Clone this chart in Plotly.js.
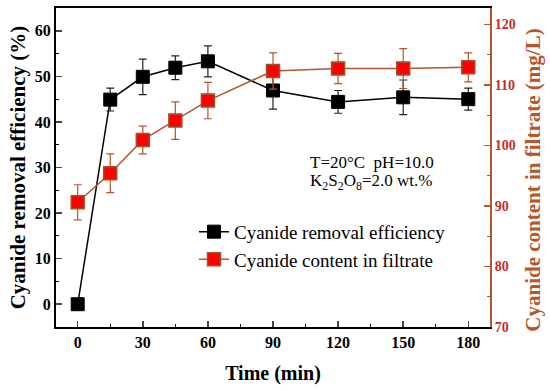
<!DOCTYPE html>
<html><head><meta charset="utf-8">
<script src="https://cdn.plot.ly/plotly-3.0.1.min.js"></script>
<style>html,body{margin:0;padding:0;background:#fff}#c{width:550px;height:390px}</style>
</head><body><div id="c"></div>
<script>
const time = [0, 15, 30, 45, 60, 90, 120, 150, 180];
const efficiency = [0, 44.9, 49.9, 51.9, 53.3, 46.9, 44.4, 45.4, 45.0];
const efficiencyErr = [0, 2.5, 3.9, 2.6, 3.4, 4.1, 2.5, 3.8, 2.4];
const content = [90.6, 95.4, 100.9, 104.1, 107.4, 112.3, 112.7, 112.7, 112.9];
const contentErr = [2.9, 3.2, 2.3, 3.1, 3.0, 3.0, 2.5, 3.3, 2.4];
const xTicks = [0, 30, 60, 90, 120, 150, 180];
const leftTicks = [0, 10, 20, 30, 40, 50, 60];
const rightTicks = [70, 80, 90, 100, 110, 120];

const serif = '"Liberation Serif", "Times New Roman", serif';
const brown = '#b5562b';
const redLabel = '#c0302a';

const traces = [
  {x: time, y: efficiency, name: 'Cyanide removal efficiency', type: 'scatter', mode: 'lines+markers',
   line: {color: '#000', width: 1.5}, marker: {symbol: 'square', size: 13, color: '#000', line: {color: '#000', width: 1}},
   error_y: {type: 'data', array: efficiencyErr, visible: true, color: '#222', thickness: 1.2, width: 4}},
  {x: time, y: content, name: 'Cyanide content in filtrate', type: 'scatter', mode: 'lines+markers', yaxis: 'y2',
   line: {color: brown, width: 1.5}, marker: {symbol: 'square', size: 13, color: '#ff0000', line: {color: '#a0522d', width: 1.5}},
   error_y: {type: 'data', array: contentErr, visible: true, color: brown, thickness: 1.2, width: 4}}
];

const layout = {
  width: 550, height: 390,
  margin: {l: 56, r: 60, t: 8, b: 63},
  paper_bgcolor: '#fff', plot_bgcolor: '#fff',
  showlegend: true,
  legend: {x: 0.318, y: 0.358, xanchor: 'left', yanchor: 'top', bgcolor: 'rgba(0,0,0,0)',
    font: {family: serif, size: 19, color: '#000'}, tracegroupgap: 0},
  xaxis: {range: [-10, 190], tickvals: xTicks, ticks: 'inside', ticklen: 6, tickwidth: 1.5,
    minor: {dtick: 15, tick0: 0, ticks: 'inside', ticklen: 3, tickwidth: 1.2, tickcolor: '#000'},
    showline: true, linecolor: '#000', linewidth: 2, mirror: true, showgrid: false, zeroline: false,
    tickfont: {family: serif, size: 16, color: '#000', weight: 'bold'},
    title: {text: '<b>Time (min)</b>', font: {family: serif, size: 20, color: '#000'}, standoff: 16}},
  yaxis: {range: [-5, 65], tickvals: leftTicks, ticks: 'inside', ticklen: 6, tickwidth: 1.5,
    minor: {dtick: 5, tick0: 0, ticks: 'inside', ticklen: 3, tickwidth: 1.2, tickcolor: '#000'},
    showline: true, linecolor: '#000', linewidth: 2, showgrid: false, zeroline: false,
    tickfont: {family: serif, size: 16, color: '#000', weight: 'bold'},
    title: {text: '<b>Cyanide removal efficiency (%)</b>', font: {family: serif, size: 21, color: '#000'}, standoff: 3}},
  yaxis2: {overlaying: 'y', side: 'right', range: [70, 122.7], tickvals: rightTicks, ticks: 'inside', ticklen: 6, tickwidth: 1.5, tickcolor: brown,
    minor: {dtick: 5, tick0: 70, ticks: 'inside', ticklen: 3, tickwidth: 1.2, tickcolor: brown},
    showline: true, linecolor: brown, linewidth: 2, showgrid: false, zeroline: false,
    tickfont: {family: serif, size: 14, color: redLabel, weight: 'bold'}},
  annotations: [
    {xref: 'paper', yref: 'paper', x: 1.1, y: 0.46, xanchor: 'center', yanchor: 'middle', showarrow: false, textangle: -90,
     text: '<b>Cyanide content in filtrate (mg/L)</b>', font: {family: serif, size: 21, color: brown}},
    {xref: 'paper', yref: 'paper', x: 0.58, y: 0.515, xanchor: 'left', yanchor: 'middle', showarrow: false,
     text: 'T=20°C  pH=10.0', font: {family: serif, size: 17, color: '#000'}},
    {xref: 'paper', yref: 'paper', x: 0.58, y: 0.455, xanchor: 'left', yanchor: 'middle', showarrow: false,
     text: 'K<sub>2</sub>S<sub>2</sub>O<sub>8</sub>=2.0 wt.%', font: {family: serif, size: 17, color: '#000'}}
  ]
};
Plotly.newPlot('c', traces, layout, {staticPlot: true, displayModeBar: false});
</script></body></html>
